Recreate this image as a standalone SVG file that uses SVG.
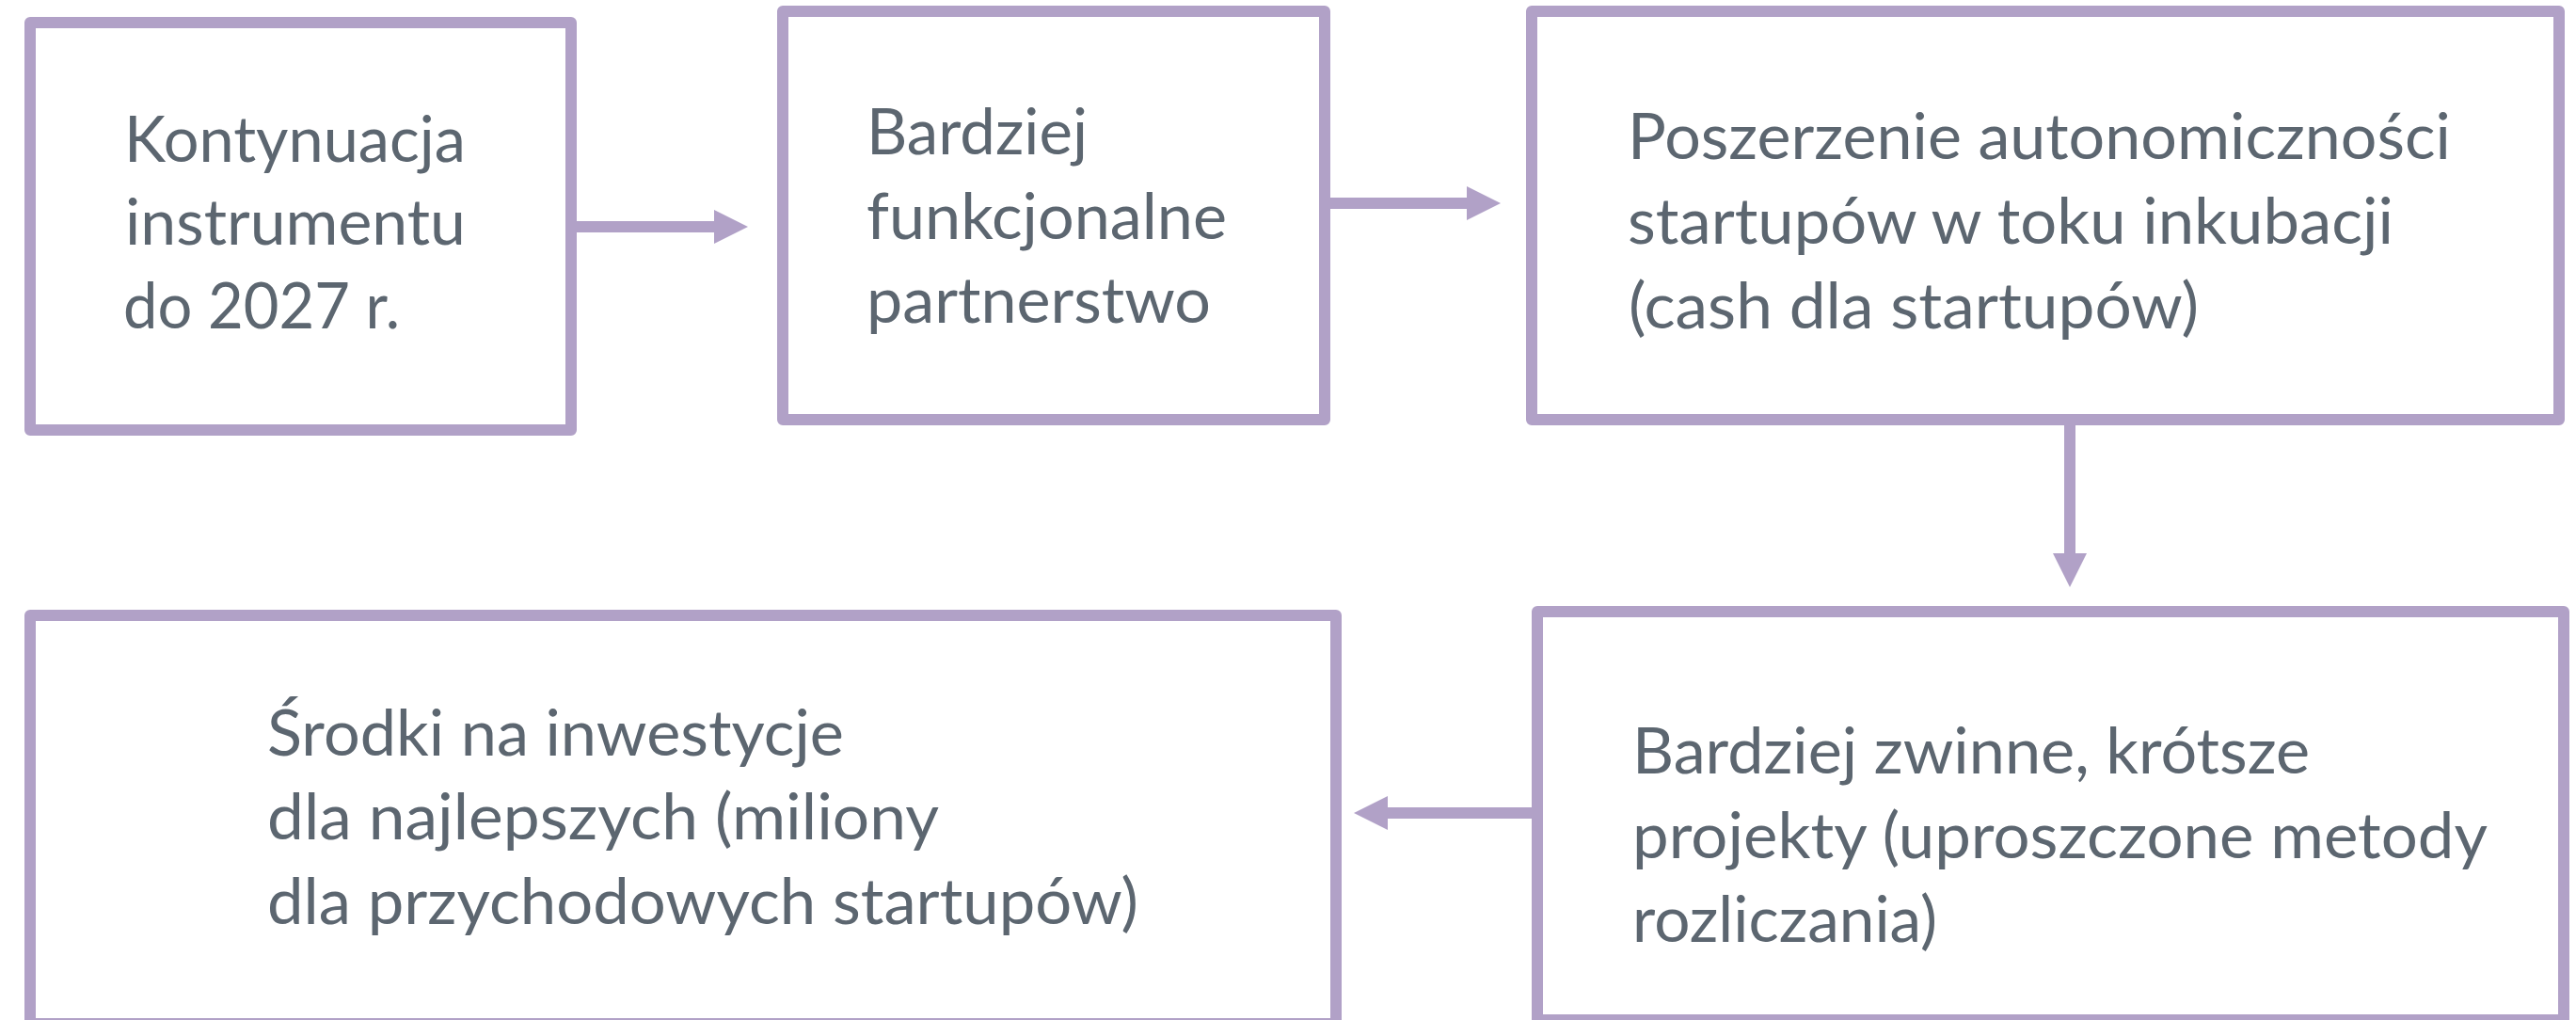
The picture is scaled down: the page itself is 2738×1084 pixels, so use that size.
<svg xmlns="http://www.w3.org/2000/svg" width="2738" height="1084" viewBox="0 0 2738 1084">
<defs>
<style>
.box{fill:#FFFFFF;stroke:#B1A1C7;stroke-width:12;stroke-linejoin:round}
.lbl{font-family:Lato,"Liberation Sans",sans-serif;font-size:67px;fill:#5C6670}
.con{fill:none;stroke:#B1A1C7;stroke-width:12}
</style>
<marker id="head" markerUnits="userSpaceOnUse" markerWidth="36" markerHeight="36" refX="0" refY="18" orient="auto" viewBox="0 0 36 36">
<path d="M0,0 L36,18 L0,36 z" fill="#B1A1C7"/>
</marker>
</defs>
<rect width="2738" height="1084" fill="#FFFFFF"/>
<g id="connectors">
<path class="con" d="M613,241 H759" marker-end="url(#head)"/>
<path class="con" d="M1414,216 H1559" marker-end="url(#head)"/>
<path class="con" d="M2200,451 V588" marker-end="url(#head)"/>
<path class="con" d="M1629,864 H1475" marker-end="url(#head)"/>
</g>
<g id="n1">
<rect class="box" x="32" y="24" width="575" height="433"/>
<text class="lbl" x="132" y="172" textLength="363" lengthAdjust="spacingAndGlyphs">Kontynuacja</text>
<text class="lbl" x="133" y="260" textLength="362" lengthAdjust="spacingAndGlyphs">instrumentu</text>
<text class="lbl" x="131" y="349" textLength="294" lengthAdjust="spacingAndGlyphs">do 2027 r.</text>
</g>
<g id="n2">
<rect class="box" x="832" y="12" width="576" height="434"/>
<text class="lbl" x="921" y="164" textLength="235" lengthAdjust="spacingAndGlyphs">Bardziej</text>
<text class="lbl" x="921" y="254" textLength="383" lengthAdjust="spacingAndGlyphs">funkcjonalne</text>
<text class="lbl" x="921" y="343" textLength="366" lengthAdjust="spacingAndGlyphs">partnerstwo</text>
</g>
<g id="n3">
<rect class="box" x="1628" y="12" width="1092" height="434"/>
<text class="lbl" x="1730" y="169" textLength="875" lengthAdjust="spacingAndGlyphs">Poszerzenie autonomiczności</text>
<text class="lbl" x="1730" y="259" textLength="814" lengthAdjust="spacingAndGlyphs">startupów w toku inkubacji</text>
<text class="lbl" x="1731" y="349" textLength="606" lengthAdjust="spacingAndGlyphs">(cash dla startupów)</text>
</g>
<g id="n4">
<rect class="box" x="32" y="654" width="1388" height="434"/>
<text class="lbl" x="284" y="803" textLength="613" lengthAdjust="spacingAndGlyphs">Środki na inwestycje</text>
<text class="lbl" x="284" y="892" textLength="714" lengthAdjust="spacingAndGlyphs">dla najlepszych (miliony</text>
<text class="lbl" x="284" y="982" textLength="926" lengthAdjust="spacingAndGlyphs">dla przychodowych startupów)</text>
</g>
<g id="n5">
<rect class="box" x="1634" y="650" width="1091" height="434"/>
<text class="lbl" x="1735" y="822" textLength="720" lengthAdjust="spacingAndGlyphs">Bardziej zwinne, krótsze</text>
<text class="lbl" x="1735" y="912" textLength="909" lengthAdjust="spacingAndGlyphs">projekty (uproszczone metody</text>
<text class="lbl" x="1735" y="1001" textLength="324" lengthAdjust="spacingAndGlyphs">rozliczania)</text>
</g>
</svg>
